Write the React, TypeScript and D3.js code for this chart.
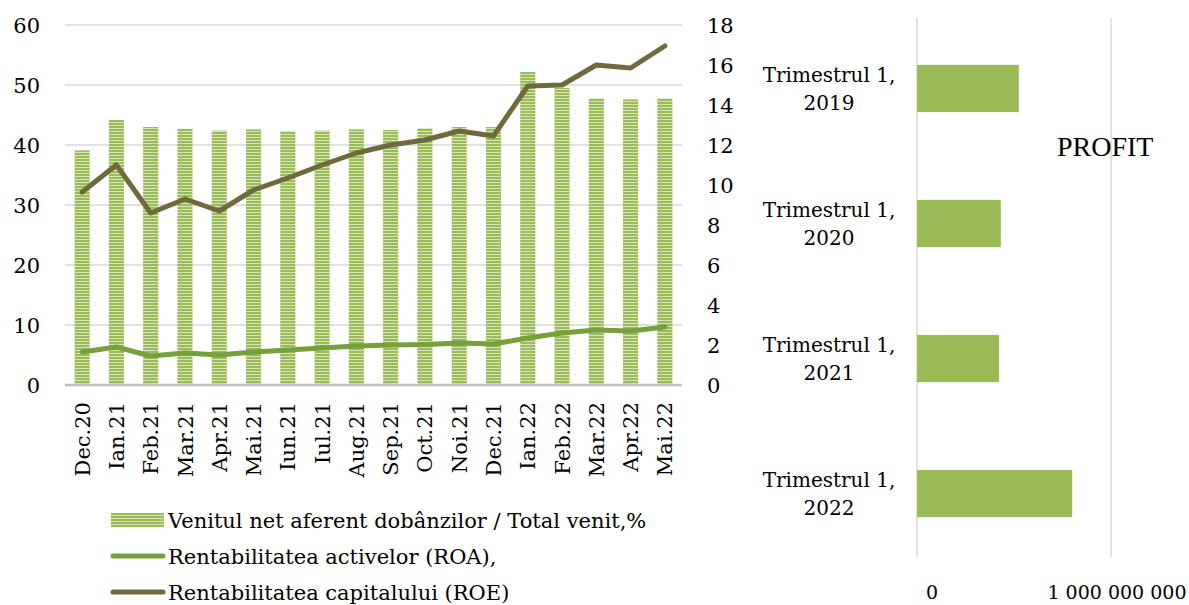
import React from "react";
import * as d3 from "d3";

const months = ["Dec.20", "Ian.21", "Feb.21", "Mar.21", "Apr.21", "Mai.21", "Iun.21", "Iul.21", "Aug.21", "Sep.21", "Oct.21", "Noi.21", "Dec.21", "Ian.22", "Feb.22", "Mar.22", "Apr.22", "Mai.22"];
const venitNet = [39.1, 44.2, 43.0, 42.7, 42.4, 42.6, 42.3, 42.4, 42.6, 42.5, 42.8, 43.0, 43.0, 52.2, 49.5, 47.8, 47.6, 47.8];
const roa = [1.65, 1.9, 1.45, 1.6, 1.5, 1.65, 1.75, 1.85, 1.95, 2.0, 2.02, 2.1, 2.05, 2.35, 2.6, 2.75, 2.7, 2.9];
const roe = [9.65, 11.0, 8.6, 9.3, 8.7, 9.75, 10.35, 11.0, 11.6, 12.0, 12.25, 12.7, 12.45, 14.95, 15.0, 16.0, 15.85, 16.95];
const leftTicks = [0, 10, 20, 30, 40, 50, 60];
const rightTicks = [0, 2, 4, 6, 8, 10, 12, 14, 16, 18];

const quarters = ["Trimestrul 1, 2019", "Trimestrul 1, 2020", "Trimestrul 1, 2021", "Trimestrul 1, 2022"];
const profit = [525000000, 432000000, 423000000, 800000000];
const profitTicks = [0, 1000000000];

const legendItems = ["Venitul net aferent dobânzilor / Total venit,%", "Rentabilitatea activelor (ROA),", "Rentabilitatea capitalului (ROE)"];

const BAR = "#9bbb59";
const ROA_C = "#77a03c";
const ROE_C = "#6f6a3e";
const GRID = "#d9d9d9";
const FONT = "DejaVu Serif";

export default function App() {
  // left combo chart
  const top = 25, bottom = 385, left = 65, right = 682;
  const x = d3.scaleBand().domain(months).range([left, right]).paddingInner(0.56).paddingOuter(0.28);
  const yL = d3.scaleLinear().domain([0, 60]).range([bottom, top]);
  const yR = d3.scaleLinear().domain([0, 18]).range([bottom, top]);
  const cx = (i: number) => x(months[i])! + x.bandwidth() / 2;
  const line = d3.line<number>().x((_, i) => cx(i)).y((d) => yR(d));

  // right profit chart
  const px = d3.scaleLinear().domain([0, 1000000000]).range([917, 1111]);
  const py = d3.scaleBand().domain(quarters).range([21, 561]).paddingInner(0.65).paddingOuter(0.325);
  const fmt = (v: number) => d3.format(",")(v).replace(/,/g, " ");

  return (
    <svg width={1189} height={605} style={{ position: "absolute", left: 0, top: 0, background: "#fff" }} fontFamily={FONT}>
      <defs>
        <pattern id="stripes" width={4} height={3} patternUnits="userSpaceOnUse">
          <rect width={4} height={3} fill={BAR} />
          <rect y={2} width={4} height={1} fill="#d6e5b5" />
        </pattern>
      </defs>

      {leftTicks.map((t) => (
        <g key={"l" + t}>
          {t > 0 && <line x1={left} x2={right} y1={yL(t)} y2={yL(t)} stroke={GRID} strokeWidth={1.3} />}
          <text x={40} y={yL(t)} dy="0.36em" textAnchor="end" fontSize={21}>{t}</text>
        </g>
      ))}
      {rightTicks.map((t) => (
        <text key={"r" + t} x={707} y={yR(t)} dy="0.36em" fontSize={21}>{t}</text>
      ))}

      {venitNet.map((v, i) => (
        <rect key={months[i]} x={x(months[i])} y={yL(v)} width={x.bandwidth()} height={bottom - yL(v)} fill="url(#stripes)" />
      ))}
      <line x1={left} x2={right} y1={bottom} y2={bottom} stroke="#bfbfbf" strokeWidth={2.5} />

      <path d={line(roa)!} fill="none" stroke={ROA_C} strokeWidth={5} strokeLinejoin="round" strokeLinecap="round" />
      <path d={line(roe)!} fill="none" stroke={ROE_C} strokeWidth={5} strokeLinejoin="round" strokeLinecap="round" />

      {months.map((m, i) => (
        <text key={"x" + m} transform={`translate(${cx(i)},402) rotate(-90)`} textAnchor="end" dy="0.36em" fontSize={21}>{m}</text>
      ))}

      {/* legend */}
      <rect x={111} y={513} width={53} height={14} fill="url(#stripes)" />
      <line x1={113} x2={163} y1={556} y2={556} stroke={ROA_C} strokeWidth={5} strokeLinecap="round" />
      <line x1={113} x2={163} y1={592} y2={592} stroke={ROE_C} strokeWidth={5} strokeLinecap="round" />
      {legendItems.map((t, i) => (
        <text key={t} x={168} y={[520, 556, 592][i]} dy="0.36em" fontSize={21}>{t}</text>
      ))}

      {/* profit chart */}
      {profitTicks.map((t) => (
        <g key={"p" + t}>
          <line x1={px(t)} x2={px(t)} y1={18} y2={557} stroke={GRID} strokeWidth={1.5} />
          <text x={px(t) + (t === 0 ? 15 : 6)} y={599} textAnchor="middle" fontSize={19}>{fmt(t)}</text>
        </g>
      ))}
      {profit.map((v, i) => (
        <rect key={quarters[i]} x={px(0)} y={py(quarters[i])} width={px(v) - px(0)} height={py.bandwidth()} fill={BAR} />
      ))}
      {quarters.map((q) => {
        const [a, b] = q.split(", ");
        const c = py(q)! + py.bandwidth() / 2;
        return (
          <text key={"q" + q} textAnchor="middle" fontSize={20}>
            <tspan x={829} y={c - 7}>{a + ","}</tspan>
            <tspan x={829} y={c + 21}>{b}</tspan>
          </text>
        );
      })}
      <text x={1057} y={156} fontFamily="Liberation Serif" fontSize={28}>PROFIT</text>
    </svg>
  );
}
